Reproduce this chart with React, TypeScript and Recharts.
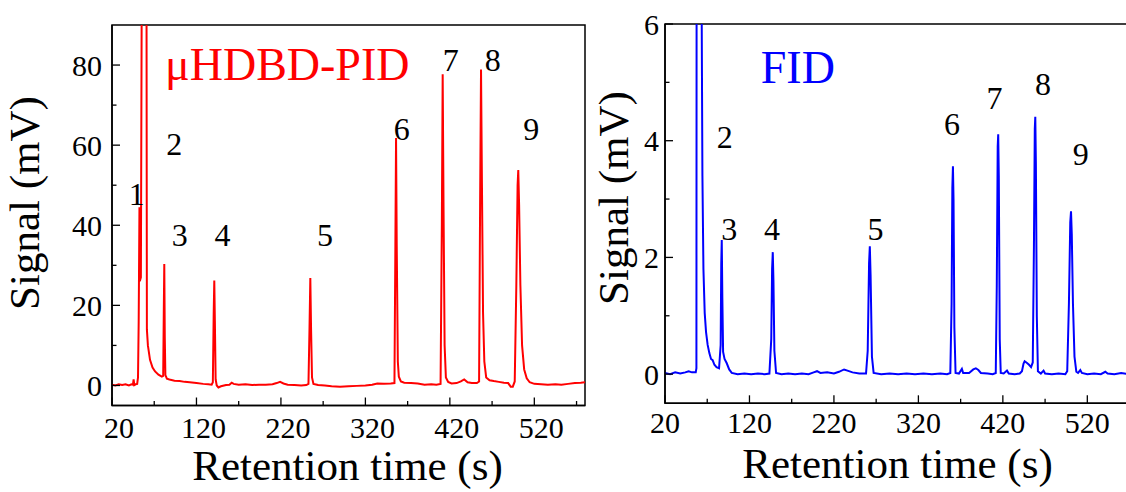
import { LineChart, Line, XAxis, YAxis, ReferenceArea, ReferenceDot } from "recharts";

const FONT = '"Liberation Serif", "Times New Roman", Times, serif';

// shared x axis
const xDomain: [number, number] = [20, 580];
const xTicks = [20, 70, 120, 170, 220, 270, 320, 370, 420, 470, 520, 570];
const xMajor = [20, 120, 220, 320, 420, 520];

// y axes
const pidYTicks = [0, 10, 20, 30, 40, 50, 60, 70, 80];
const pidYMajor = [0, 20, 40, 60, 80];
const fidYTicks = [0, 1, 2, 3, 4, 5, 6];
const fidYMajor = [0, 2, 4, 6];

// retention time (s), signal (mV)
const pidTrace: [number, number][] = [
  [20, 0.2], [24, 0.0], [28, 0.3], [32, 0.1], [36, 0.3], [40, 0.0], [43, 0.3], [44.8, 0.2],
  [45.6, 1.5], [46.4, 0.1], [48, 0.3], [49.8, 0.4], [50.8, 2], [51.6, 16], [52.5, 44.5],
  [52.9, 26], [54.2, 27], [55.5, 120], [57, 170], [58.8, 160], [60.8, 110], [61.3, 14],
  [62.5, 10], [65, 6.4], [68, 4.5], [71, 3.5], [75, 2.7], [79, 2.2], [80.6, 2.4], [81.3, 18],
  [81.9, 30.3], [82.5, 12], [83.2, 2.6], [85, 1.7], [88, 1.5], [94, 1.2], [100, 1.1],
  [106, 0.9], [112, 0.8], [120, 0.6], [128, 0.4], [134, 0.3], [138, 0.2], [139.4, 0.8],
  [140.4, 18], [141.1, 26.2], [141.8, 16], [142.7, 1.5], [144, 0], [146, -0.5], [149, -0.2],
  [155, 0.1], [159, 0.2], [161.7, 0.7], [164, 0.4], [170, 0.2], [178, 0.3], [186, 0.1],
  [194, 0.2], [202, 0.2], [210, 0.3], [215, 0.6], [219, 0.9], [223, 0.5], [228, 0.2],
  [236, 0.1], [244, 0.0], [250, 0.1], [252.6, 0.4], [253.8, 14], [254.8, 26.8], [255.7, 14],
  [256.8, 2], [258.5, 0.4], [264, 0.1], [272, 0.0], [280, -0.2], [290, -0.3], [300, -0.2],
  [310, -0.1], [320, 0.0], [328, 0.2], [334, 0.5], [342, 0.4], [350, 0.5], [354.4, 0.6],
  [355.5, 35], [356.3, 61.8], [357.1, 35], [358.4, 6], [359.6, 2.2], [362, 1.0], [366, 0.7],
  [374, 0.6], [382, 0.5], [390, 0.2], [398, 0.3], [404, 0.2], [409, 0.4], [410.5, 40],
  [411.5, 77.7], [412.5, 45], [413.8, 10], [415.3, 2.0], [418, 0.9], [422, 0.5], [428, 0.6],
  [433, 1.0], [437, 1.5], [441, 0.8], [446, 0.6], [452, 0.6], [454.6, 1.0], [455.8, 45],
  [456.9, 78.9], [458, 50], [459.3, 18], [460.8, 6], [463, 2.0], [467, 1.3], [472, 1.1],
  [478, 0.9], [484, 0.7], [489, 0.6], [492, -0.3], [494.5, -0.3], [496.8, 1.0], [498.7, 25],
  [500.2, 50], [501, 53.8], [502, 45], [503.5, 25], [505.5, 10], [508, 4], [511, 1.8],
  [514.5, 0.8], [520, 0.4], [528, 0.3], [536, 0.2], [545, 0.3], [552, 0.2], [560, 0.4],
  [568, 0.6], [575, 0.7], [580, 0.8],
];

const fidTrace: [number, number][] = [
  [20, 0.02], [26, 0.0], [32, 0.03], [38, 0.01], [44, 0.03], [48, 0.05], [52, 0.03],
  [56.4, 0.03], [57.2, 0.1], [58.2, 30], [60.5, 45], [62.6, 20], [63.4, 6.3], [64.3, 3.4],
  [65.5, 1.8], [67, 1.05], [68.6, 0.72], [70.5, 0.5], [72.5, 0.36], [74.5, 0.26],
  [76.4, 0.24], [78.5, 0.16], [81, 0.12], [84, 0.1], [85.9, 0.5], [86.6, 1.9], [87.2, 2.3],
  [87.9, 1.3], [88.8, 0.38], [90.5, 0.26], [93, 0.19], [96, 0.08], [99, 0.02], [106, 0.0],
  [114, 0.01], [122, 0.0], [130, 0.01], [138, 0.0], [143.6, 0.01], [145.8, 0.6],
  [146.8, 1.8], [147.6, 2.09], [148.4, 1.6], [149.5, 0.4], [151.5, 0.02], [158, 0.0],
  [166, 0.01], [174, 0.0], [182, 0.01], [190, 0.0], [196, 0.03], [200, 0.05], [204, 0.02],
  [212, 0.03], [220, 0.01], [226, 0.04], [232, 0.08], [236, 0.06], [242, 0.03], [250, 0.01],
  [258, 0.01], [260, 0.4], [261.6, 1.9], [262.5, 2.19], [263.4, 1.7], [265, 0.3], [267, 0.02],
  [276, 0.0], [286, 0.01], [296, 0.0], [306, 0.01], [316, 0.0], [326, 0.01], [336, 0.0],
  [346, 0.01], [354, 0.0], [357.8, 0.02], [359.3, 1.2], [360.2, 3.2], [360.9, 3.56],
  [361.6, 3.0], [362.6, 0.8], [364, 0.02], [368, 0.01], [371.5, 0.09], [373, 0.02],
  [380, 0.02], [385, 0.08], [388, 0.1], [391, 0.07], [394, 0.02], [402, 0.01], [408, 0.0],
  [411.6, 0.02], [412.8, 1.5], [413.9, 3.9], [414.5, 4.11], [415.2, 3.4], [416.3, 0.6],
  [417.5, 0.02], [421, 0.01], [424.9, 0.06], [427, 0.01], [434, 0.0], [440, 0.01],
  [442.6, 0.05], [444.5, 0.18], [445.8, 0.22], [448.6, 0.19], [451, 0.16], [453.4, 0.12],
  [455.4, 0.2], [456.8, 2.2], [457.8, 4.2], [458.4, 4.41], [459.1, 3.6], [460.2, 1.0],
  [461.5, 0.05], [465, 0.01], [468.2, 0.06], [470, 0.01], [478, 0.0], [486, 0.01], [494, 0.0],
  [496.2, 0.05], [498.2, 1.2], [499.8, 2.6], [500.7, 2.79], [501.6, 2.4], [503, 1.2],
  [504.8, 0.3], [507, 0.04], [509, 0.02], [511.7, 0.07], [513.5, 0.02], [520, 0.0],
  [528, 0.01], [536, 0.0], [541.3, 0.04], [544, 0.01], [552, 0.0], [560, 0.02], [568, 0.0],
  [580, 0.01],
];

type PeakLabel = { name: string; t: number; v: number };

const pidPeaks: PeakLabel[] = [
  { name: "1", t: 49.2, v: 45.1 },
  { name: "2", t: 93.6, v: 57.6 },
  { name: "3", t: 100.2, v: 34.7 },
  { name: "4", t: 150.8, v: 34.7 },
  { name: "5", t: 272.2, v: 34.7 },
  { name: "6", t: 363, v: 61.3 },
  { name: "7", t: 421.1, v: 78.4 },
  { name: "8", t: 470.9, v: 78.4 },
  { name: "9", t: 516.5, v: 61.3 },
];

const fidPeaks: PeakLabel[] = [
  { name: "2", t: 90.7, v: 3.87 },
  { name: "3", t: 96.1, v: 2.3 },
  { name: "4", t: 146.8, v: 2.3 },
  { name: "5", t: 269.2, v: 2.3 },
  { name: "6", t: 359.8, v: 4.1 },
  { name: "7", t: 410, v: 4.55 },
  { name: "8", t: 467.6, v: 4.78 },
  { name: "9", t: 512.3, v: 3.58 },
];

interface PanelProps {
  trace: [number, number][];
  color: string;
  yDomain: [number, number];
  yTicks: number[];
  yMajor: number[];
  peaks: PeakLabel[];
  title: string;
  titleAt: [number, number];
  left: number;
  width: number;
  top: number;
  plotBottom: number;
  rightMargin: number;
  xTickDx: number;
  xTickDy: number;
  yTickDx: number;
  yLabelX: number;
  yLabelY: number;
  xLabelX: number;
  xLabelY: number;
}

function Panel(p: PanelProps) {
  const data = p.trace.map(([t, v]) => ({ t, v }));

  const xTick = (props: any) => {
    const { x, y, payload } = props;
    const major = xMajor.includes(payload.value);
    return (
      <g>
        <line x1={x} x2={x} y1={y} y2={y - (major ? 8 : 4.5)} stroke="#000" strokeWidth={1.3} />
        {major && (
          <text x={x + p.xTickDx} y={y + p.xTickDy} textAnchor="middle" fontSize={30} fontFamily={FONT} fill="#000">
            {payload.value}
          </text>
        )}
      </g>
    );
  };

  const yTick = (props: any) => {
    const { x, y, payload } = props;
    const major = p.yMajor.includes(payload.value);
    return (
      <g>
        <line x1={x} x2={x + (major ? 8 : 4.5)} y1={y} y2={y} stroke="#000" strokeWidth={1.3} />
        {major && (
          <text x={x + p.yTickDx} y={y} dy="0.35em" textAnchor="end" fontSize={30} fontFamily={FONT} fill="#000">
            {payload.value}
          </text>
        )}
      </g>
    );
  };

  return (
    <div style={{ position: "absolute", left: p.left, top: 0 }}>
      <LineChart
        width={p.width}
        height={492}
        data={data}
        margin={{ top: p.top, right: p.rightMargin, bottom: 0, left: 0 }}
      >
        <XAxis
          dataKey="t"
          type="number"
          domain={xDomain}
          allowDataOverflow
          ticks={xTicks}
          interval={0}
          tickSize={0}
          tickMargin={0}
          tickLine={false}
          tick={xTick}
          height={492 - p.plotBottom}
          axisLine={{ stroke: "#000", strokeWidth: 1.5 }}
          label={() => (
            <text x={p.xLabelX} y={p.xLabelY} textAnchor="middle" fontSize={43} fontFamily={FONT} fill="#000">
              Retention time (s)
            </text>
          )}
        />
        <YAxis
          type="number"
          domain={p.yDomain}
          allowDataOverflow
          ticks={p.yTicks}
          interval={0}
          tickSize={0}
          tickMargin={0}
          tickLine={false}
          tick={yTick}
          width={112}
          axisLine={{ stroke: "#000", strokeWidth: 1.5 }}
          label={() => (
            <text
              x={p.yLabelX}
              y={p.yLabelY}
              transform={`rotate(-90 ${p.yLabelX} ${p.yLabelY})`}
              textAnchor="middle"
              fontSize={43}
              fontFamily={FONT}
              fill="#000"
            >
              Signal (mV)
            </text>
          )}
        />
        <Line
          dataKey="v"
          type="linear"
          stroke={p.color}
          strokeWidth={2}
          dot={false}
          activeDot={false}
          isAnimationActive={false}
        />
        <ReferenceArea
          x1={xDomain[0]}
          x2={xDomain[1]}
          y1={p.yDomain[0]}
          y2={p.yDomain[1]}
          fill="none"
          stroke="#000"
          strokeWidth={1.5}
          ifOverflow="visible"
        />
        {p.peaks.map((pk) => (
          <ReferenceDot
            key={pk.name}
            x={pk.t}
            y={pk.v}
            r={0}
            ifOverflow="visible"
            shape={(s: any) => (
              <text x={s.cx} y={s.cy} textAnchor="middle" fontSize={32} fontFamily={FONT} fill="#000">
                {pk.name}
              </text>
            )}
          />
        ))}
        <ReferenceDot
          x={p.titleAt[0]}
          y={p.titleAt[1]}
          r={0}
          ifOverflow="visible"
          shape={(s: any) => (
            <text x={s.cx} y={s.cy} textAnchor="start" fontSize={46} fontFamily={FONT} fill={p.color}>
              {p.title}
            </text>
          )}
        />
      </LineChart>
    </div>
  );
}

export default function App() {
  return (
    <div
      style={{
        position: "absolute",
        left: 0,
        top: 0,
        width: 1126,
        height: 492,
        overflow: "hidden",
        background: "#fff",
      }}
    >
      <Panel
        trace={pidTrace}
        color="#ff0000"
        yDomain={[-5, 90]}
        yTicks={pidYTicks}
        yMajor={pidYMajor}
        peaks={pidPeaks}
        title="μHDBD-PID"
        titleAt={[82.8, 76.3]}
        left={0}
        width={600}
        top={25}
        plotBottom={405.5}
        rightMargin={15}
        xTickDx={7}
        xTickDy={32.5}
        yTickDx={-10}
        yLabelX={39}
        yLabelY={203}
        xLabelX={347.5}
        xLabelY={480}
      />
      <Panel
        trace={fidTrace}
        color="#0000ff"
        yDomain={[-0.5, 6]}
        yTicks={fidYTicks}
        yMajor={fidYMajor}
        peaks={fidPeaks}
        title="FID"
        titleAt={[133.4, 4.99]}
        left={553}
        width={585}
        top={24}
        plotBottom={403.3}
        rightMargin={0}
        xTickDx={0}
        xTickDy={30}
        yTickDx={-6}
        yLabelX={75}
        yLabelY={198}
        xLabelX={344.5}
        xLabelY={478}
      />
    </div>
  );
}
